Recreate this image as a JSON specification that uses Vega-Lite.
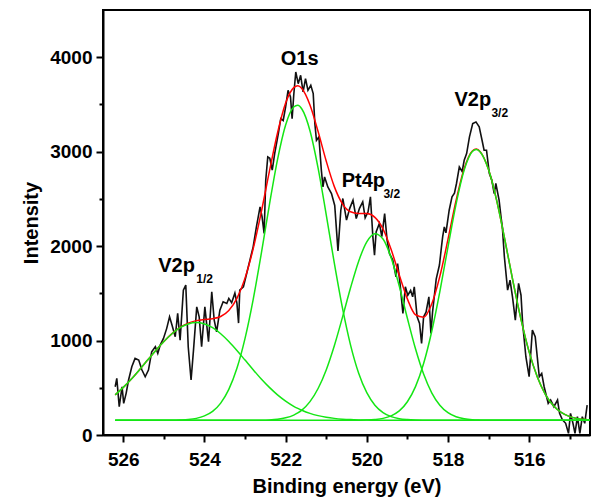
{
  "$schema": "https://vega.github.io/schema/vega-lite/v6.json",
  "width": 487,
  "height": 425,
  "autosize": {"type": "none"},
  "padding": {"left": 103, "top": 10, "right": 2, "bottom": 69},
  "background": "#ffffff",
  "config": {
    "view": {"stroke": "#000000", "strokeWidth": 2},
    "font": "Liberation Sans",
    "axis": {
      "grid": false,
      "domainColor": "#000000",
      "domainWidth": 2,
      "tickColor": "#000000",
      "tickWidth": 2,
      "labelColor": "#000000",
      "titleColor": "#000000",
      "labelFont": "Liberation Sans",
      "titleFont": "Liberation Sans",
      "labelFontSize": 19,
      "labelFontWeight": "bold",
      "titleFontSize": 20,
      "titleFontWeight": "bold",
      "labelFlush": false,
      "labelOverlap": false
    }
  },
  "datasets": {
    "spec": [
      {"E":526.20,"I":511},{"E":526.16,"I":600},{"E":526.10,"I":300},{"E":526.03,"I":511},{"E":525.99,"I":335},
      {"E":525.93,"I":441},{"E":525.87,"I":582},{"E":525.79,"I":723},{"E":525.71,"I":811},{"E":525.62,"I":794},
      {"E":525.54,"I":688},{"E":525.46,"I":617},{"E":525.38,"I":688},{"E":525.30,"I":881},{"E":525.21,"I":934},
      {"E":525.15,"I":864},{"E":525.09,"I":952},{"E":525.01,"I":1023},{"E":524.93,"I":1129},{"E":524.86,"I":1252},
      {"E":524.80,"I":1164},{"E":524.72,"I":1040},{"E":524.66,"I":1288},{"E":524.60,"I":1005},{"E":524.52,"I":1534},
      {"E":524.46,"I":1587},{"E":524.40,"I":934},{"E":524.33,"I":582},{"E":524.27,"I":899},{"E":524.19,"I":1357},
      {"E":524.13,"I":1252},{"E":524.07,"I":934},{"E":523.99,"I":1357},{"E":523.90,"I":987},{"E":523.82,"I":1516},
      {"E":523.76,"I":1217},{"E":523.70,"I":1093},{"E":523.62,"I":1322},{"E":523.54,"I":1410},{"E":523.45,"I":1393},
      {"E":523.40,"I":1446},{"E":523.33,"I":1400},{"E":523.25,"I":1502},{"E":523.20,"I":1397},{"E":523.16,"I":1185},
      {"E":523.13,"I":1534},{"E":523.04,"I":1569},{"E":522.96,"I":1710},{"E":522.88,"I":1852},{"E":522.80,"I":1992},
      {"E":522.72,"I":2204},{"E":522.63,"I":2416},{"E":522.58,"I":2310},{"E":522.53,"I":2134},{"E":522.49,"I":2698},
      {"E":522.44,"I":2945},{"E":522.39,"I":2930},{"E":522.33,"I":2804},{"E":522.27,"I":2980},{"E":522.18,"I":3191},
      {"E":522.12,"I":3350},{"E":522.06,"I":3330},{"E":522.00,"I":3474},{"E":521.94,"I":3650},{"E":521.88,"I":3579},
      {"E":521.84,"I":3350},{"E":521.80,"I":3600},{"E":521.75,"I":3844},{"E":521.69,"I":3720},{"E":521.63,"I":3809},
      {"E":521.57,"I":3632},{"E":521.51,"I":3773},{"E":521.45,"I":3650},{"E":521.38,"I":3703},{"E":521.32,"I":3615},
      {"E":521.28,"I":3298},{"E":521.24,"I":3121},{"E":521.18,"I":3156},{"E":521.12,"I":2804},{"E":521.08,"I":2627},
      {"E":521.04,"I":2733},{"E":520.96,"I":2627},{"E":520.87,"I":2557},{"E":520.79,"I":2430},{"E":520.71,"I":1950},
      {"E":520.64,"I":2380},{"E":520.59,"I":2504},{"E":520.50,"I":2275},{"E":520.42,"I":2400},{"E":520.34,"I":2486},
      {"E":520.26,"I":2292},{"E":520.18,"I":2400},{"E":520.10,"I":2468},{"E":520.04,"I":2300},{"E":519.97,"I":2360},
      {"E":519.91,"I":2521},{"E":519.85,"I":2098},{"E":519.81,"I":1904},{"E":519.77,"I":2150},{"E":519.69,"I":2240},
      {"E":519.63,"I":2100},{"E":519.56,"I":2345},{"E":519.50,"I":2063},{"E":519.44,"I":1920},{"E":519.36,"I":1852},
      {"E":519.28,"I":1675},{"E":519.24,"I":1816},{"E":519.18,"I":1600},{"E":519.11,"I":1287},{"E":519.05,"I":1569},
      {"E":518.99,"I":1480},{"E":518.92,"I":1530},{"E":518.87,"I":1463},{"E":518.83,"I":1569},{"E":518.76,"I":1252},
      {"E":518.70,"I":1182},{"E":518.65,"I":970},{"E":518.60,"I":1252},{"E":518.54,"I":1300},{"E":518.47,"I":1463},
      {"E":518.42,"I":1076},{"E":518.38,"I":1300},{"E":518.29,"I":1650},{"E":518.21,"I":1800},{"E":518.16,"I":1992},
      {"E":518.13,"I":2100},{"E":518.09,"I":2204},{"E":518.05,"I":2140},{"E":517.97,"I":2380},{"E":517.90,"I":2521},
      {"E":517.84,"I":2560},{"E":517.79,"I":2663},{"E":517.72,"I":2839},{"E":517.65,"I":2790},{"E":517.60,"I":2909},
      {"E":517.54,"I":2980},{"E":517.47,"I":3156},{"E":517.39,"I":3298},{"E":517.31,"I":3315},{"E":517.23,"I":3262},
      {"E":517.16,"I":3121},{"E":517.11,"I":3015},{"E":517.05,"I":3015},{"E":516.98,"I":2769},{"E":516.92,"I":2700},
      {"E":516.86,"I":2557},{"E":516.82,"I":2663},{"E":516.74,"I":2486},{"E":516.69,"I":2300},{"E":516.66,"I":2204},
      {"E":516.61,"I":1887},{"E":516.53,"I":1534},{"E":516.47,"I":1640},{"E":516.41,"I":1463},{"E":516.34,"I":1217},
      {"E":516.26,"I":1605},{"E":516.20,"I":1480},{"E":516.16,"I":1182},{"E":516.08,"I":829},{"E":516.00,"I":617},
      {"E":515.92,"I":1111},{"E":515.85,"I":1040},{"E":515.80,"I":830},{"E":515.75,"I":617},{"E":515.69,"I":652},
      {"E":515.63,"I":511},{"E":515.57,"I":405},{"E":515.53,"I":335},{"E":515.47,"I":370},{"E":515.39,"I":300},
      {"E":515.30,"I":370},{"E":515.25,"I":229},{"E":515.18,"I":160},{"E":515.10,"I":124},{"E":515.03,"I":18},
      {"E":514.98,"I":229},{"E":514.92,"I":124},{"E":514.87,"I":18},{"E":514.81,"I":194},{"E":514.75,"I":18},
      {"E":514.69,"I":194},{"E":514.63,"I":124},{"E":514.57,"I":317}
    ],
    "curves": [
      {"E":526.2,"fit":425,"c1":425,"c2":155,"c3":155,"c4":155},
      {"E":526.0,"fit":504,"c1":504,"c2":155,"c3":155,"c4":155},
      {"E":525.8,"fit":593,"c1":593,"c2":155,"c3":155,"c4":155},
      {"E":525.6,"fit":691,"c1":691,"c2":155,"c3":155,"c4":155},
      {"E":525.4,"fit":793,"c1":793,"c2":155,"c3":155,"c4":155},
      {"E":525.2,"fit":895,"c1":895,"c2":155,"c3":155,"c4":155},
      {"E":525.0,"fit":990,"c1":990,"c2":155,"c3":155,"c4":155},
      {"E":524.8,"fit":1073,"c1":1072,"c2":156,"c3":155,"c4":155},
      {"E":524.6,"fit":1140,"c1":1136,"c2":159,"c3":155,"c4":155},
      {"E":524.4,"fit":1185,"c1":1176,"c2":164,"c3":155,"c4":155},
      {"E":524.2,"fit":1211,"c1":1190,"c2":176,"c3":155,"c4":155},
      {"E":524.0,"fit":1223,"c1":1176,"c2":202,"c3":155,"c4":155},
      {"E":523.8,"fit":1231,"c1":1136,"c2":250,"c3":155,"c4":155},
      {"E":523.6,"fit":1255,"c1":1072,"c2":338,"c3":155,"c4":155},
      {"E":523.4,"fit":1318,"c1":990,"c2":483,"c3":155,"c4":155},
      {"E":523.2,"fit":1446,"c1":895,"c2":706,"c3":155,"c4":155},
      {"E":523.0,"fit":1661,"c1":793,"c2":1023,"c3":155,"c4":155},
      {"E":522.8,"fit":1971,"c1":691,"c2":1434,"c3":156,"c4":155},
      {"E":522.6,"fit":2360,"c1":593,"c2":1920,"c3":157,"c4":155},
      {"E":522.4,"fit":2791,"c1":504,"c2":2437,"c3":160,"c4":155},
      {"E":522.2,"fit":3198,"c1":425,"c2":2916,"c3":167,"c4":155},
      {"E":522.0,"fit":3514,"c1":359,"c2":3283,"c3":182,"c4":155},
      {"E":521.8,"fit":3678,"c1":304,"c2":3473,"c3":211,"c4":155},
      {"E":521.7,"fit":3697,"c1":282,"c2":3491,"c3":234,"c4":155},
      {"E":521.6,"fit":3668,"c1":262,"c2":3452,"c3":264,"c4":155},
      {"E":521.4,"fit":3494,"c1":229,"c2":3222,"c3":353,"c4":155},
      {"E":521.2,"fit":3213,"c1":205,"c2":2826,"c3":492,"c4":155},
      {"E":521.0,"fit":2901,"c1":188,"c2":2334,"c3":689,"c4":155},
      {"E":520.8,"fit":2630,"c1":176,"c2":1819,"c3":945,"c4":155},
      {"E":520.6,"fit":2448,"c1":168,"c2":1345,"c3":1245,"c4":155},
      {"E":520.4,"fit":2364,"c1":163,"c2":952,"c3":1559,"c4":155},
      {"E":520.2,"fit":2346,"c1":160,"c2":654,"c3":1841,"c4":156},
      {"E":520.0,"fit":2344,"c1":158,"c2":448,"c3":2045,"c4":158},
      {"E":519.8,"fit":2304,"c1":157,"c2":316,"c3":2132,"c4":164},
      {"E":519.6,"fit":2181,"c1":156,"c2":238,"c3":2076,"c4":176},
      {"E":519.4,"fit":1964,"c1":155,"c2":195,"c3":1876,"c4":203},
      {"E":519.2,"fit":1694,"c1":155,"c2":173,"c3":1576,"c4":255},
      {"E":519.0,"fit":1441,"c1":155,"c2":163,"c3":1236,"c4":352},
      {"E":518.8,"fit":1273,"c1":155,"c2":158,"c3":913,"c4":512},
      {"E":518.6,"fit":1248,"c1":155,"c2":156,"c3":645,"c4":757},
      {"E":518.4,"fit":1388,"c1":155,"c2":155,"c3":447,"c4":1096},
      {"E":518.2,"fit":1679,"c1":155,"c2":155,"c3":315,"c4":1519},
      {"E":518.0,"fit":2071,"c1":155,"c2":155,"c3":236,"c4":1990},
      {"E":517.8,"fit":2483,"c1":155,"c2":155,"c3":193,"c4":2445},
      {"E":517.6,"fit":2821,"c1":155,"c2":155,"c3":171,"c4":2805},
      {"E":517.4,"fit":3007,"c1":155,"c2":155,"c3":161,"c4":3001},
      {"E":517.3,"fit":3027,"c1":155,"c2":155,"c3":159,"c4":3023},
      {"E":517.2,"fit":2997,"c1":155,"c2":155,"c3":157,"c4":2995},
      {"E":517.0,"fit":2810,"c1":155,"c2":155,"c3":155,"c4":2810},
      {"E":516.8,"fit":2484,"c1":155,"c2":155,"c3":155,"c4":2484},
      {"E":516.6,"fit":2070,"c1":155,"c2":155,"c3":155,"c4":2070},
      {"E":516.4,"fit":1632,"c1":155,"c2":155,"c3":155,"c4":1632},
      {"E":516.2,"fit":1224,"c1":155,"c2":155,"c3":155,"c4":1224},
      {"E":516.0,"fit":880,"c1":155,"c2":155,"c3":155,"c4":880},
      {"E":515.8,"fit":617,"c1":155,"c2":155,"c3":155,"c4":617},
      {"E":515.6,"fit":431,"c1":155,"c2":155,"c3":155,"c4":431},
      {"E":515.4,"fit":309,"c1":155,"c2":155,"c3":155,"c4":309},
      {"E":515.2,"fit":236,"c1":155,"c2":155,"c3":155,"c4":236},
      {"E":515.0,"fit":195,"c1":155,"c2":155,"c3":155,"c4":195},
      {"E":514.8,"fit":173,"c1":155,"c2":155,"c3":155,"c4":173},
      {"E":514.6,"fit":163,"c1":155,"c2":155,"c3":155,"c4":163},
      {"E":514.5,"fit":160,"c1":155,"c2":155,"c3":155,"c4":160}
    ],
    "labels": [
      {"E":525.14,"I":1725,"t":"V2p"},
      {"E":522.12,"I":3915,"t":"O1s"},
      {"E":520.62,"I":2624,"t":"Pt4p"},
      {"E":517.84,"I":3481,"t":"V2p"}
    ],
    "subs": [
      {"E":524.20,"I":1608,"t":"1/2"},
      {"E":519.59,"I":2507,"t":"3/2"},
      {"E":516.93,"I":3364,"t":"3/2"}
    ]
  },
  "encoding": {
    "x": {
      "field": "E",
      "type": "quantitative",
      "title": "Binding energy (eV)",
      "scale": {"domain": [514.5, 526.5], "reverse": true, "nice": false, "zero": false},
      "axis": {
        "values": [515, 516, 517, 518, 519, 520, 521, 522, 523, 524, 525, 526],
        "format": "d",
        "labelExpr": "datum.value % 2 === 0 ? datum.label : ''",
        "tickSize": {"condition": {"test": "datum.value % 2 === 0", "value": 7}, "value": 4},
        "labelPadding": 8,
        "titlePadding": 7
      }
    },
    "y": {
      "field": "I",
      "type": "quantitative",
      "title": "Intensity",
      "scale": {"domain": [0, 4500], "nice": false, "zero": true},
      "axis": {
        "values": [0, 500, 1000, 1500, 2000, 2500, 3000, 3500, 4000],
        "format": "d",
        "labelExpr": "datum.value % 1000 === 0 ? datum.label : ''",
        "tickSize": {"condition": {"test": "datum.value % 1000 === 0", "value": 7}, "value": 4},
        "labelPadding": 4,
        "titlePadding": 8
      }
    }
  },
  "layer": [
    {
      "data": {"name": "spec"},
      "mark": {"type": "line", "color": "#111111", "strokeWidth": 1.6, "clip": true}
    },
    {
      "data": {"name": "curves"},
      "transform": [{"fold": ["fit"], "as": ["k", "I"]}],
      "mark": {"type": "line", "color": "#ff0000", "strokeWidth": 1.5, "interpolate": "monotone", "clip": true}
    },
    {
      "data": {"name": "curves"},
      "transform": [{"fold": ["c1", "c2", "c3", "c4"], "as": ["comp", "I"]}],
      "mark": {"type": "line", "color": "#14e614", "strokeWidth": 1.5, "interpolate": "monotone", "clip": true},
      "encoding": {"detail": {"field": "comp", "type": "nominal"}}
    },
    {
      "data": {"name": "labels"},
      "mark": {"type": "text", "align": "left", "baseline": "alphabetic", "font": "Liberation Sans", "fontWeight": "bold", "fontSize": 20, "color": "#000000"},
      "encoding": {"text": {"field": "t", "type": "nominal"}}
    },
    {
      "data": {"name": "subs"},
      "mark": {"type": "text", "align": "left", "baseline": "alphabetic", "font": "Liberation Sans", "fontWeight": "bold", "fontSize": 12, "color": "#000000"},
      "encoding": {"text": {"field": "t", "type": "nominal"}}
    }
  ]
}
